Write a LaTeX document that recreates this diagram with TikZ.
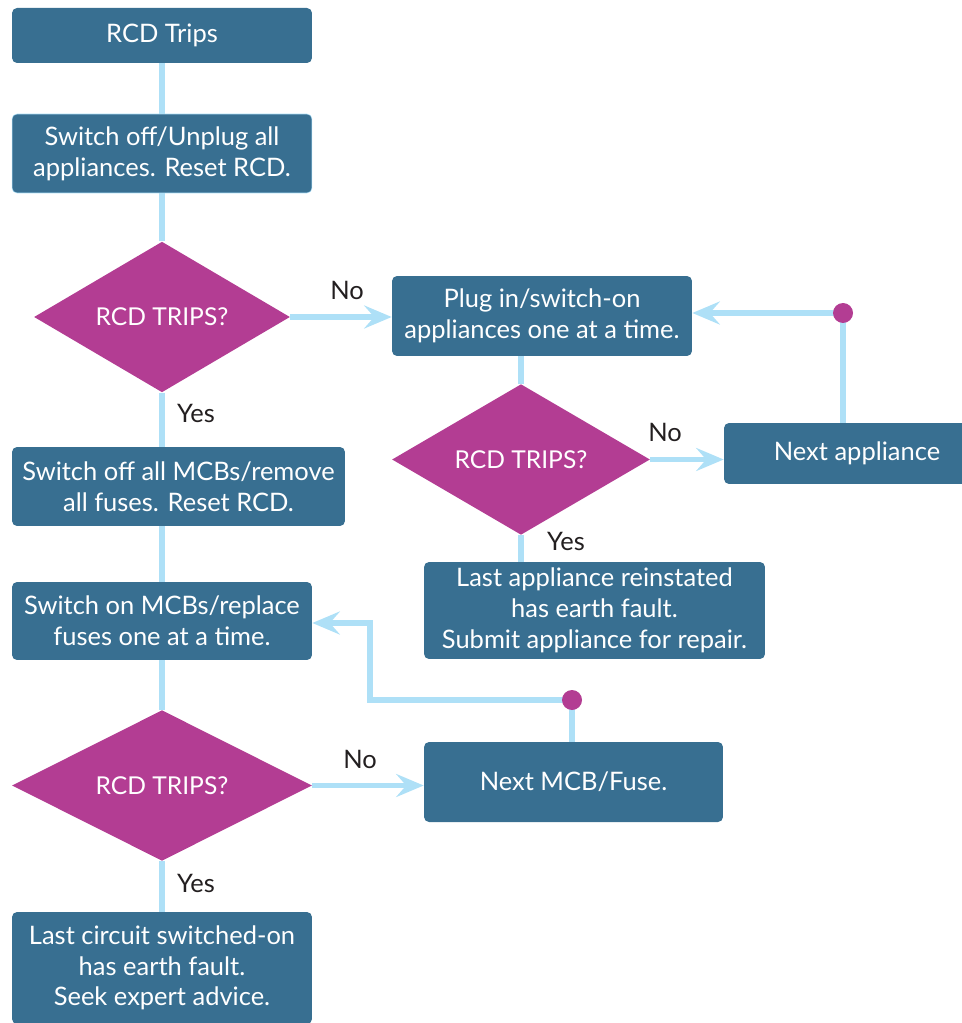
\documentclass[tikz,border=0pt]{standalone}
\usepackage{fontspec}
\setmainfont{Lato}
\usetikzlibrary{shapes.geometric, arrows.meta, positioning, calc}
\usepackage{xcolor}
\definecolor{boxblue}{HTML}{386F91}
\definecolor{tripmag}{HTML}{B33D93}
\definecolor{flowline}{HTML}{AEE0F7}
\definecolor{answerink}{HTML}{231F20}

\begin{document}
\begin{tikzpicture}[
    x=0.02cm, y=-0.02cm,
    box/.style={rectangle, fill=boxblue, rounded corners=0.1cm, inner sep=0pt, minimum width=6cm, align=center, text=white, font=\fontsize{14.5}{17.5}\selectfont},
    trip/.style={diamond, fill=tripmag, inner sep=0pt, minimum height=2.9cm, text=white, font=\fontsize{14}{17}\selectfont},
    answer/.style={text=answerink, font=\fontsize{14.5}{17.5}\selectfont},
    flow/.style={line width=0.11cm, flowline},
    arrow/.style={flow, -{Stealth[length=0.55cm, width=0.46cm, inset=0.2cm]}}
]
    \clip (0,0) rectangle (962,1023);

    % left column
    \node[box, minimum height=1.1cm] (start) at (162,35.5) {RCD Trips};
    \node[box, minimum height=1.58cm, draw=flowline, line width=0.3pt] (unplug) at (162,153.5) {Switch off/Unplug all\\appliances. Reset RCD.};
    \node[trip, minimum width=5.12cm] (trip1) at (162,317) {RCD TRIPS?};
    \node[box, minimum width=6.66cm, minimum height=1.58cm] (mcboff) at (178.5,486.5) {Switch off all MCBs/remove\\all fuses. Reset RCD.};
    \node[box, minimum height=1.56cm] (mcbon) at (162,621) {Switch on MCBs/replace\\fuses one at a time.};
    \node[trip, minimum width=6cm] (trip3) at (162,785.5) {RCD TRIPS?};
    \node[box, minimum height=2.24cm] (expert) at (162,968) {Last circuit switched-on\\has earth fault.\\Seek expert advice.};

    % right column
    \node[box, minimum height=1.6cm] (plugin) at (542,316) {Plug in/switch-on\\appliances one at a time.};
    \node[trip, minimum width=5.16cm] (trip2) at (521,459.5) {RCD TRIPS?};
    \node[box, minimum width=5.32cm, minimum height=1.22cm] (nextapp) at (857,453.5) {Next appliance};
    \node[box, minimum width=6.82cm, minimum height=1.94cm] (repair) at (594.5,610.5) {Last appliance reinstated\\has earth fault.\\Submit appliance for repair.};
    \node[box, minimum width=5.98cm, minimum height=1.6cm] (nextmcb) at (573.5,782) {Next MCB/Fuse.};

    \coordinate (loopapp) at (843,313);
    \coordinate (loopmcb) at (572,700);
    \coordinate (bendmcb) at (370,623);

    % connectors
    \draw[flow] (start) -- (unplug);
    \draw[flow] (unplug) -- (trip1);
    \draw[flow] (trip1) -- (mcboff.north -| trip1);
    \draw[flow] (mcboff.south -| mcbon) -- (mcbon);
    \draw[flow] (mcbon) -- (trip3);
    \draw[flow] (trip3) -- (expert);
    \draw[arrow] (trip1.east) -- (plugin.west |- trip1.east);
    \draw[arrow] (trip3.east) -- (nextmcb.west |- trip3.east);
    \draw[flow] (plugin.south -| trip2) -- (trip2.north);
    \draw[flow] (trip2.south) -- (repair.north -| trip2);
    \draw[arrow] (trip2.east) -- (nextapp.west |- trip2.east);
    \draw[flow] (nextapp.north -| loopapp) -- (loopapp);
    \draw[arrow] (loopapp) -- (plugin.east |- loopapp);
    \draw[flow] (nextmcb.north -| loopmcb) -- (loopmcb);
    \draw[arrow] (loopmcb) -| (bendmcb) -- (mcbon.east |- bendmcb);
    \fill[tripmag] (loopapp) circle (0.2cm);
    \fill[tripmag] (loopmcb) circle (0.2cm);

    % answers
    \node[answer] (no1) at (347,290) {No};
    \node[answer] (yes1) at (196,413) {Yes};
    \node[answer] (no2) at (665,432) {No};
    \node[answer] (yes2) at (566,541) {Yes};
    \node[answer] (no3) at (360,759) {No};
    \node[answer] (yes3) at (196,883) {Yes};
\end{tikzpicture}
\end{document}
